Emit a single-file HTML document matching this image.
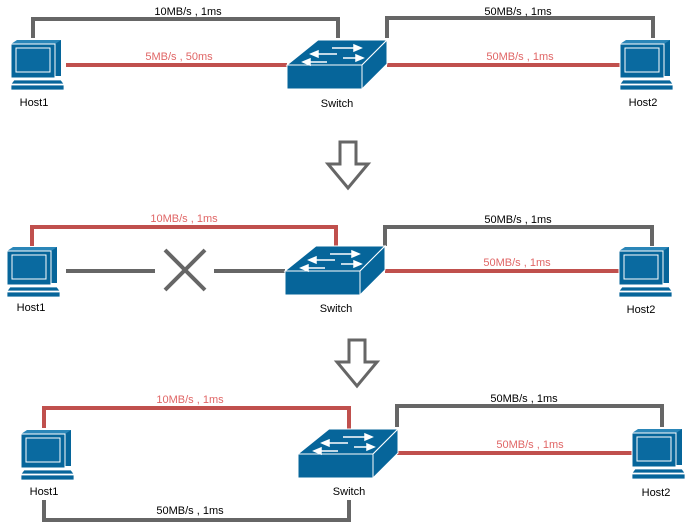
<!DOCTYPE html>
<html><head><style>body{margin:0;background:#fff}svg{display:block}text{font-family:"Liberation Sans",sans-serif;font-size:11px}</style></head><body>
<svg width="686" height="524" viewBox="0 0 686 524" xmlns="http://www.w3.org/2000/svg">
<defs>
<g id="host">
<polygon points="6,2 50,2 50,38 6,38" fill="#06659a"/>
<polygon points="0,6 6,2 50,2 44,6" fill="#2a86b8"/>
<rect x="0" y="6" width="44" height="34" fill="#06659a" stroke="#fff" stroke-width="1"/>
<rect x="5" y="10" width="34" height="24" fill="#0a6aa0" stroke="#fff" stroke-width="1"/>
<polygon points="3,42 50,42 53,46 0,46" fill="#06659a" stroke="#fff" stroke-width="0.8"/>
<rect x="0" y="47" width="53" height="5" fill="#06659a" stroke="#fff" stroke-width="0.8"/>
</g>
<g id="sw">
<polygon points="0,25 31,0 100,0 75,25" fill="#06659a" stroke="#fff" stroke-width="1"/>
<polygon points="0,25 75,25 75,49 0,49" fill="#06659a" stroke="#fff" stroke-width="1"/>
<polygon points="75,25 100,0 100,24 75,49" fill="#06659a" stroke="#fff" stroke-width="1"/>
<g stroke="#fff" stroke-width="1.5" fill="#fff">
<line x1="30" y1="14" x2="50" y2="14"/><polygon points="24,14 31,11 31,17"/>
<line x1="45" y1="8" x2="68" y2="8"/><polygon points="74,8 67,5 67,11"/>
<line x1="56" y1="18" x2="70" y2="18"/><polygon points="76,18 69,15 69,21"/>
<line x1="22" y1="22" x2="40" y2="22"/><polygon points="16,22 23,19 23,25"/>
</g>
</g>
<polygon id="arr" points="-8,0 8,0 8,22 20,22 0,46 -20,22 -8,22" fill="#fff" stroke="#666" stroke-width="3"/>
</defs>
<g fill="none" stroke-width="4">
<!-- panel1 -->
<polyline points="33,38 33,19 338,19 338,38" stroke="#666"/>
<line x1="66" y1="65" x2="287" y2="65" stroke="#c0504d"/>
<polyline points="387,38 387,18 653,18 653,38" stroke="#666"/>
<line x1="387" y1="65" x2="622" y2="65" stroke="#c0504d"/>
<!-- panel2 -->
<polyline points="32,246 32,227 336,227 336,246" stroke="#c0504d"/>
<polyline points="385,246 385,227 652,227 652,246" stroke="#666"/>
<line x1="385" y1="271" x2="620" y2="271" stroke="#c0504d"/>
<line x1="66" y1="271" x2="155" y2="271" stroke="#666"/>
<line x1="214" y1="271" x2="285" y2="271" stroke="#666"/>
<line x1="165" y1="250" x2="205" y2="290" stroke="#666"/>
<line x1="205" y1="250" x2="165" y2="290" stroke="#666"/>
<!-- panel3 -->
<polyline points="44,428 44,408 349,408 349,429" stroke="#c0504d"/>
<polyline points="397,427 397,406 662,406 662,427" stroke="#666"/>
<line x1="397" y1="453" x2="633" y2="453" stroke="#c0504d"/>
<polyline points="44,500 44,520 349,520 349,500" stroke="#666"/>
</g>
<use href="#host" x="11" y="38"/>
<use href="#sw" x="287" y="40"/>
<use href="#host" x="620" y="38"/>
<use href="#host" x="7" y="245"/>
<use href="#sw" x="285" y="246"/>
<use href="#host" x="619" y="245"/>
<use href="#host" x="21" y="428"/>
<use href="#sw" x="298" y="429"/>
<use href="#host" x="632" y="427"/>
<use href="#arr" x="348" y="142"/>
<use href="#arr" x="357" y="340"/>
<g text-anchor="middle" fill="#000">
<text x="34" y="106">Host1</text><text x="337" y="107">Switch</text><text x="643" y="106">Host2</text>
<text x="31" y="311">Host1</text><text x="336" y="312">Switch</text><text x="641" y="313">Host2</text>
<text x="44" y="495">Host1</text><text x="349" y="495">Switch</text><text x="656" y="496">Host2</text>
<text x="188" y="15">10MB/s , 1ms</text>
<text x="518" y="15">50MB/s , 1ms</text>
<text x="518" y="223">50MB/s , 1ms</text>
<text x="524" y="402">50MB/s , 1ms</text>
<text x="190" y="514">50MB/s , 1ms</text>
</g>
<g text-anchor="middle" fill="#e06666">
<text x="179" y="60">5MB/s , 50ms</text>
<text x="520" y="60">50MB/s , 1ms</text>
<text x="184" y="222">10MB/s , 1ms</text>
<text x="517" y="266">50MB/s , 1ms</text>
<text x="190" y="403">10MB/s , 1ms</text>
<text x="530" y="448">50MB/s , 1ms</text>
</g>
</svg>
</body></html>
